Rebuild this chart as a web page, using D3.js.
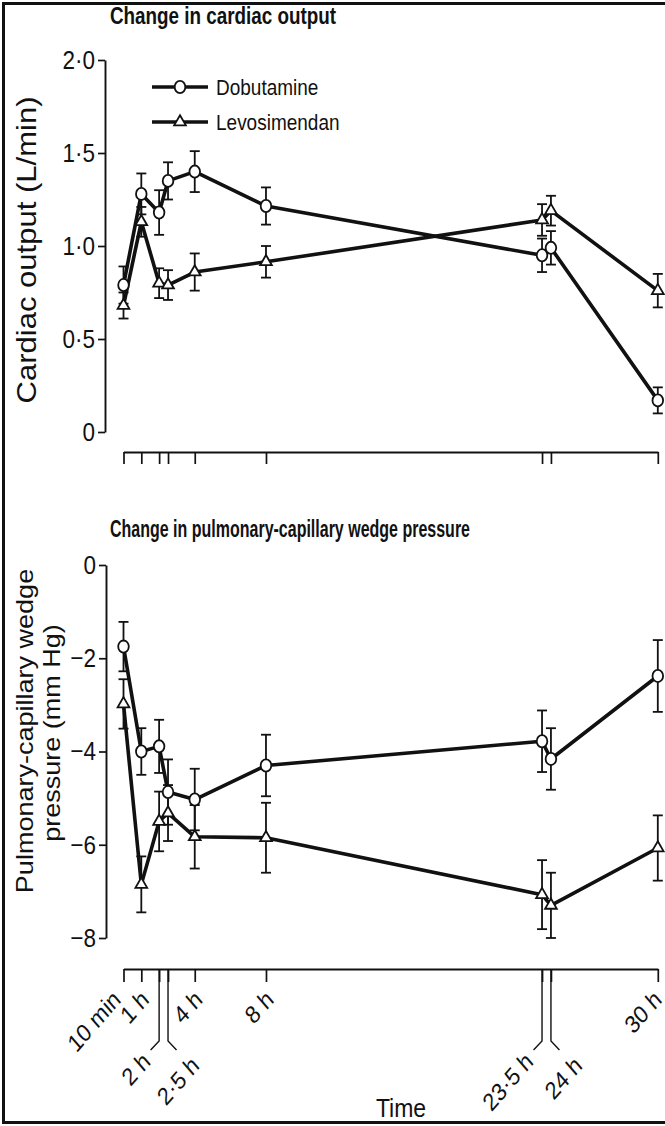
<!DOCTYPE html>
<html><head><meta charset="utf-8">
<script src="https://cdn.jsdelivr.net/npm/d3@7"></script>
<style>
body{margin:0;background:#fff}
svg{display:block}
text{font-family:"Liberation Sans",Arial,Helvetica,sans-serif;fill:#111}
</style>
</head><body>
<svg id="chart" width="665" height="1126"></svg>
<script>
// ---------- data ----------
const times = [0, 1, 2, 2.5, 4, 8, 23.5, 24, 30];
const timeLabels = ["10 min", "1 h", "2 h", "2·5 h", "4 h", "8 h", "23·5 h", "24 h", "30 h"];
const seriesNames = ["Dobutamine", "Levosimendan"];

const coDobutamine    = [0.79, 1.28, 1.18, 1.35, 1.40, 1.215, 0.95, 0.99, 0.17];
const coDobutamineErr = [0.10, 0.11, 0.12, 0.10, 0.11, 0.10, 0.09, 0.09, 0.07];
const coLevosimendan    = [0.68, 1.13, 0.80, 0.79, 0.86, 0.915, 1.14, 1.19, 0.76];
const coLevosimendanErr = [0.07, 0.08, 0.08, 0.08, 0.10, 0.085, 0.085, 0.08, 0.09];

const pcDobutamine    = [-1.75, -4.00, -3.89, -4.87, -5.03, -4.30, -3.78, -4.16, -2.38];
const pcDobutamineErr = [0.53, 0.50, 0.57, 0.70, 0.66, 0.66, 0.66, 0.66, 0.77];
const pcLevosimendan    = [-2.98, -6.85, -5.50, -5.32, -5.83, -5.85, -7.07, -7.30, -6.07];
const pcLevosimendanErr = [0.53, 0.60, 0.64, 0.60, 0.68, 0.75, 0.74, 0.70, 0.70];

const coTicks = [0, 0.5, 1, 1.5, 2];
const pcTicks = [0, -2, -4, -6, -8];
const leaderTimes = {2: -1, 2.5: 1, 23.5: -1, 24: 1};

// ---------- layout ----------
const K = 1.15; // vertical stretch of the scanned figure's lettering
const svg = d3.select("#chart");
const x = d3.scaleLinear().domain([0, 30]).range([123.5, 657.8]);
const yTop = d3.scaleLinear().domain([0, 2]).range([432, 60]);
const yBot = d3.scaleLinear().domain([-8, 0]).range([938, 565]);
const fmtDot = d => d === 0 ? "0" : d.toFixed(1).replace(".", "·");
const fmtMinus = d => d === 0 ? "0" : "\u2212" + Math.abs(d);

svg.append("rect").attr("x", 3.5).attr("y", 3.5).attr("width", 700).attr("height", 1119)
  .attr("fill", "none").attr("stroke", "#111").attr("stroke-width", 3);

function label(g, str, px, py, size, opts = {}) {
  const t = g.append("text")
    .attr("transform", `translate(${px},${py}) scale(1,${K}) rotate(${opts.rot || 0})`)
    .attr("text-anchor", opts.anchor || "start")
    .style("font-size", size + "px")
    .style("font-weight", opts.bold ? "bold" : "normal")
    .text(str);
  if (opts.len) t.attr("textLength", opts.len).attr("lengthAdjust", "spacingAndGlyphs");
  return t;
}

function styleAxis(g, size) {
  g.select(".domain").attr("stroke", "#111").attr("stroke-width", 1.9);
  g.selectAll(".tick line").attr("stroke", "#111").attr("stroke-width", 1.7);
  g.selectAll(".tick text").style("font-size", size + "px").attr("fill", "#111")
    .attr("transform", `scale(1,${K})`);
}

function panel(y, dob, dobErr, lev, levErr) {
  const g = svg.append("g");
  const sets = [
    {v: dob, e: dobErr, shape: "circle"},
    {v: lev, e: levErr, shape: "triangle"}
  ];
  sets.forEach(s => {
    const eb = g.append("g").attr("stroke", "#111").attr("stroke-width", 1.8).attr("fill", "none");
    times.forEach((t, i) => {
      const cx = x(t), y1 = y(s.v[i] + s.e[i]), y2 = y(s.v[i] - s.e[i]);
      eb.append("line").attr("x1", cx).attr("x2", cx).attr("y1", y1).attr("y2", y2);
      eb.append("line").attr("x1", cx - 5).attr("x2", cx + 5).attr("y1", y1).attr("y2", y1);
      eb.append("line").attr("x1", cx - 5).attr("x2", cx + 5).attr("y1", y2).attr("y2", y2);
    });
  });
  sets.forEach(s => {
    g.append("path")
      .attr("d", d3.line().x((d, i) => x(times[i])).y(d => y(d))(s.v))
      .attr("fill", "none").attr("stroke", "#111").attr("stroke-width", 3.6)
      .attr("stroke-linejoin", "round");
  });
  sets.forEach(s => {
    s.v.forEach((v, i) => marker(g, s.shape, x(times[i]), y(v)));
  });
}

function marker(g, shape, cx, cy) {
  if (shape === "circle") {
    g.append("ellipse").attr("cx", cx).attr("cy", cy).attr("rx", 5.3).attr("ry", 6.1)
      .attr("fill", "#fff").attr("stroke", "#111").attr("stroke-width", 1.8);
  } else {
    g.append("path").attr("d", d3.symbol(d3.symbolTriangle, 60)())
      .attr("transform", `translate(${cx},${cy})`)
      .attr("fill", "#fff").attr("stroke", "#111").attr("stroke-width", 1.8);
  }
}

// ---------- top panel: cardiac output ----------
label(svg, "Change in cardiac output", 110, 24, 21, {bold: true, len: 226});

const gyTop = svg.append("g").attr("transform", "translate(105,0)")
  .call(d3.axisLeft(yTop).tickValues(coTicks).tickFormat(fmtDot).tickSize(7).tickSizeOuter(0).tickPadding(3));
styleAxis(gyTop, 22.5);

const gxTop = svg.append("g").attr("transform", "translate(0,452)")
  .call(d3.axisBottom(x).tickValues(times).tickFormat("").tickSize(12).tickSizeOuter(0));
styleAxis(gxTop, 22);

label(svg, "Cardiac output (L/min)", 36, 250, 27, {rot: -90, anchor: "middle"});

panel(yTop, coDobutamine, coDobutamineErr, coLevosimendan, coLevosimendanErr);

// legend
const lg = svg.append("g");
seriesNames.forEach((name, i) => {
  const ly = 87 + i * 35;
  lg.append("line").attr("x1", 152).attr("x2", 208).attr("y1", ly).attr("y2", ly)
    .attr("stroke", "#111").attr("stroke-width", 3.6);
  marker(lg, i === 0 ? "circle" : "triangle", 180, ly);
  label(lg, name, 216, ly + 8, 19);
});

// ---------- bottom panel: PCWP ----------
label(svg, "Change in pulmonary-capillary wedge pressure", 110, 537, 21, {bold: true, len: 360});

const gyBot = svg.append("g").attr("transform", "translate(106,0)")
  .call(d3.axisLeft(yBot).tickValues(pcTicks).tickFormat(fmtMinus).tickSize(7).tickSizeOuter(0).tickPadding(3));
styleAxis(gyBot, 22.5);

label(svg, "Pulmonary-capillary wedge", 33, 731, 23.5, {rot: -90, anchor: "middle"});
label(svg, "pressure (mm Hg)", 60, 733, 23.5, {rot: -90, anchor: "middle"});

panel(yBot, pcDobutamine, pcDobutamineErr, pcLevosimendan, pcLevosimendanErr);

// bottom time axis
const axisY = 969;
const gxBot = svg.append("g").attr("transform", `translate(0,${axisY})`)
  .call(d3.axisBottom(x).tickValues(times).tickFormat("").tickSize(13).tickSizeOuter(0));
styleAxis(gxBot, 22);

const leaders = svg.append("g").attr("stroke", "#111").attr("stroke-width", 1.4).attr("fill", "none");
times.forEach((t, i) => {
  const tx = x(t);
  const dir = leaderTimes[t];
  let px, py;
  if (dir) {
    const ex = tx + dir * 8.5, ey = axisY + 81;
    leaders.append("path").attr("d", `M${tx},${axisY}V${axisY + 72}L${ex},${ey}`);
    if (dir < 0) { px = ex + 1; py = ey + 13; } else { px = ex + 24; py = ey + 17; }
  } else {
    px = Math.min(tx + (i === 0 ? -1.5 : 9), 663);
    py = axisY + 32;
  }
  label(svg, timeLabels[i], px, py, 21.5, {rot: -45, anchor: "end"});
});

label(svg, "Time", 401, 1117, 23, {anchor: "middle"});
</script>
</body></html>
